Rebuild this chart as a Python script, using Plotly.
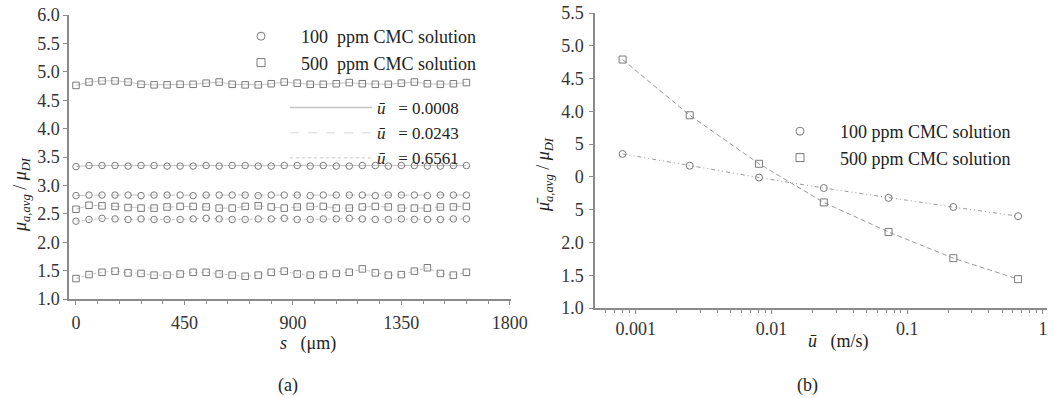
import plotly.graph_objects as go

# ---------------- data: panel (a) ----------------
s_um = [0, 54, 108, 162, 216, 270, 324, 378, 432, 486, 540, 594, 648, 702, 756,
        810, 864, 918, 972, 1026, 1080, 1134, 1188, 1242, 1296, 1350, 1404, 1458,
        1512, 1566, 1620]

c500_u0008 = [4.76, 4.82, 4.84, 4.84, 4.82, 4.78, 4.77, 4.77, 4.78, 4.78, 4.80,
              4.82, 4.78, 4.77, 4.77, 4.79, 4.82, 4.80, 4.78, 4.78, 4.79, 4.81,
              4.79, 4.78, 4.78, 4.80, 4.82, 4.79, 4.78, 4.79, 4.81]
c100_u0008 = [3.33, 3.35, 3.35, 3.35, 3.34, 3.35, 3.35, 3.34, 3.34, 3.34, 3.35,
              3.34, 3.35, 3.35, 3.34, 3.34, 3.35, 3.35, 3.34, 3.35, 3.34, 3.34,
              3.35, 3.35, 3.34, 3.35, 3.35, 3.34, 3.34, 3.35, 3.35]
c100_u0243 = [2.82, 2.83, 2.83, 2.83, 2.83, 2.82, 2.83, 2.83, 2.83, 2.82, 2.83,
              2.83, 2.83, 2.83, 2.82, 2.83, 2.83, 2.83, 2.82, 2.83, 2.83, 2.83,
              2.83, 2.82, 2.83, 2.83, 2.83, 2.82, 2.83, 2.83, 2.83]
c500_u0243 = [2.58, 2.65, 2.64, 2.63, 2.61, 2.60, 2.60, 2.62, 2.63, 2.63, 2.62,
              2.60, 2.60, 2.63, 2.64, 2.62, 2.60, 2.62, 2.63, 2.63, 2.60, 2.60,
              2.62, 2.63, 2.62, 2.60, 2.60, 2.60, 2.62, 2.62, 2.63]
c100_u6561 = [2.37, 2.40, 2.42, 2.41, 2.40, 2.41, 2.40, 2.40, 2.40, 2.41, 2.42,
              2.41, 2.40, 2.40, 2.41, 2.41, 2.42, 2.40, 2.40, 2.41, 2.41, 2.42,
              2.41, 2.40, 2.40, 2.41, 2.40, 2.40, 2.40, 2.41, 2.41]
c500_u6561 = [1.36, 1.43, 1.47, 1.49, 1.46, 1.45, 1.42, 1.42, 1.44, 1.47, 1.47,
              1.44, 1.42, 1.40, 1.42, 1.47, 1.49, 1.44, 1.42, 1.43, 1.45, 1.47,
              1.53, 1.46, 1.42, 1.43, 1.49, 1.55, 1.45, 1.42, 1.47]

# ---------------- data: panel (b) ----------------
u_mean = [0.0008, 0.0025, 0.0081, 0.0243, 0.0729, 0.2187, 0.6561]
avg_100ppm = [3.35, 3.17, 2.99, 2.83, 2.68, 2.54, 2.40]
avg_500ppm = [4.79, 3.94, 3.20, 2.61, 2.16, 1.76, 1.44]

# ---------------- tick labels ----------------
a_xticks = [0, 450, 900, 1350, 1800]
a_yticks = [1.0, 1.5, 2.0, 2.5, 3.0, 3.5, 4.0, 4.5, 5.0, 5.5, 6.0]
b_xticks = [0.001, 0.01, 0.1, 1]
b_xticktext = ["0.001", "0.01", "0.1", "1"]
b_yticks = [1.0, 1.5, 2.0, 2.5, 3.0, 3.5, 4.0, 4.5, 5.0, 5.5]
b_yticktext = ["1.0", "1.5", "2.0", "5", "0", "5", "4.0", "4.5", "5.0", "5.5"]

legend_conc = ["100  ppm CMC solution", "500  ppm CMC solution"]
legend_conc_b = ["100 ppm CMC solution", "500 ppm CMC solution"]
legend_u = ["= 0.0008", "= 0.0243", "= 0.6561"]

W, H = 1054, 398
FONT = "Liberation Serif"
MK = "#7a7a7a"
LN = "#c4c4c4"

fig = go.Figure()

dashes = ["solid", "dash", "dot"]
a_series = [
    (c500_u0008, "square-open", 0), (c100_u0008, "circle-open", 0),
    (c100_u0243, "circle-open", 1), (c500_u0243, "square-open", 1),
    (c100_u6561, "circle-open", 2), (c500_u6561, "square-open", 2),
]
for vals, sym, k in a_series:
    fig.add_trace(go.Scatter(
        x=s_um, y=vals, mode="lines+markers", xaxis="x", yaxis="y",
        line=dict(color=LN, width=1, dash=dashes[k]),
        marker=dict(symbol=sym, size=6.5, color=MK, line=dict(width=1, color=MK)),
        showlegend=False))

# legend entries panel (a)
for name, sym in zip(legend_conc, ["circle-open", "square-open"]):
    fig.add_trace(go.Scatter(
        x=[None], y=[None], mode="markers", name=name, xaxis="x", yaxis="y",
        marker=dict(symbol=sym, size=8, color=MK, line=dict(width=1, color=MK)),
        legend="legend"))
for name, d, col in zip(legend_u, dashes, ["#c4c4c4", "#e4e4e4", "#d8d8d8"]):
    fig.add_trace(go.Scatter(
        x=[None], y=[None], mode="lines", name="<i>ū</i>   " + name,
        xaxis="x", yaxis="y", line=dict(color=col, width=1.5, dash=d),
        legend="legend2"))

# panel (b)
fig.add_trace(go.Scatter(
    x=u_mean, y=avg_100ppm, mode="lines+markers", xaxis="x2", yaxis="y2",
    line=dict(color="#9a9a9a", width=1, dash="4px,3px,1px,3px,1px,3px"),
    marker=dict(symbol="circle-open", size=7, color=MK, line=dict(width=1, color=MK)),
    showlegend=False))
fig.add_trace(go.Scatter(
    x=u_mean, y=avg_500ppm, mode="lines+markers", xaxis="x2", yaxis="y2",
    line=dict(color="#9a9a9a", width=1, dash="5px,3px"),
    marker=dict(symbol="square-open", size=7, color=MK, line=dict(width=1, color=MK)),
    showlegend=False))
for name, sym in zip(legend_conc_b, ["circle-open", "square-open"]):
    fig.add_trace(go.Scatter(
        x=[None], y=[None], mode="markers", name=name, xaxis="x2", yaxis="y2",
        marker=dict(symbol=sym, size=8, color=MK, line=dict(width=1, color=MK)),
        legend="legend3"))

axcommon = dict(showgrid=False, zeroline=False, showline=True, linecolor="#8a8a8a",
                linewidth=1.5, ticks="outside", tickcolor="#8a8a8a", ticklen=4,
                automargin=False,
                tickfont=dict(family=FONT, size=18, color="#333"))

lf = dict(family=FONT, size=18, color="#222")
legcommon = dict(bgcolor="rgba(0,0,0,0)", borderwidth=0, font=lf, itemwidth=70,
                 xanchor="left", yanchor="top", tracegroupgap=0)

fig.update_layout(
    width=W, height=H, margin=dict(l=0, r=0, t=0, b=0, autoexpand=False),
    paper_bgcolor="white", plot_bgcolor="white",
    xaxis=dict(axcommon, domain=[69 / W, 511 / W], range=[-29, 1805],
               tickvals=a_xticks, anchor="y", ticklabelstandoff=3,
               minor=dict(dtick=90, ticks="outside", ticklen=3, tickcolor="#8a8a8a")),
    yaxis=dict(axcommon, domain=[1 - 299 / H, 1 - 15 / H], range=[1, 6],
               tickvals=a_yticks, tickformat=".1f", anchor="x"),
    xaxis2=dict(axcommon, type="log", domain=[595 / W, 1047 / W], range=[-3.3, 0.03],
                tickvals=b_xticks, ticktext=b_xticktext, anchor="y2",
                minor=dict(dtick="D1", ticks="outside", ticklen=3, tickcolor="#8a8a8a")),
    yaxis2=dict(axcommon, domain=[1 - 308 / H, 1 - 13 / H], range=[1, 5.5],
                tickvals=b_yticks, ticktext=b_yticktext, anchor="x2", ticklabelstandoff=2),
    legend=dict(legcommon, x=221 / W, y=1 - 18 / H),
    legend2=dict(legcommon, x=285 / W, y=1 - 90 / H, itemwidth=82,
                 font=dict(lf, size=17)),
    legend3=dict(legcommon, x=760 / W, y=1 - 113 / H),
)

ann = [
    dict(text="<i>μ</i><sub><i>a,avg</i></sub> / <i>μ</i><sub><i>DI</i></sub>",
         x=22 / W, y=1 - 195 / H, textangle=-90),
    dict(text="<i>μ̄</i><sub><i>a,avg</i></sub> / <i>μ</i><sub><i>DI</i></sub>",
         x=545 / W, y=1 - 175 / H, textangle=-90),
    dict(text="<i>s</i>   (μm)", x=308 / W, y=1 - 343 / H),
    dict(text="<i>ū</i>   (m/s)", x=838 / W, y=1 - 341 / H),
    dict(text="(a)", x=288 / W, y=1 - 385 / H),
    dict(text="(b)", x=807 / W, y=1 - 385 / H),
]
for a in ann:
    fig.add_annotation(xref="paper", yref="paper", showarrow=False,
                       xanchor="center", yanchor="middle",
                       font=dict(family=FONT, size=18, color="#222"), **a)

fig.write_html("out.html")
